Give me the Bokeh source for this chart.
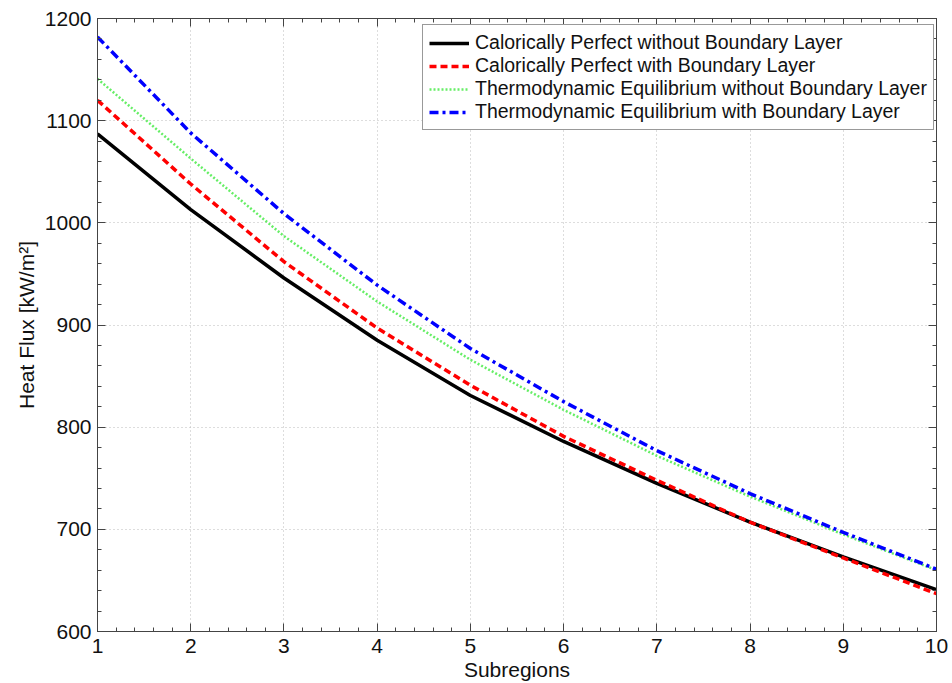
from bokeh.plotting import figure
from bokeh.models import LinearAxis, SingleIntervalTicker, Legend, LegendItem
from bokeh.embed import file_html
from bokeh.resources import INLINE

subregions = [1, 2, 3, 4, 5, 6, 7, 8, 9, 10]
cp_without_bl = [1087, 1013, 946, 885, 831, 786, 745, 707, 673, 641]
cp_with_bl = [1120, 1038, 962, 897, 841, 791, 748, 707, 672, 637]
te_without_bl = [1141, 1063, 987, 923, 866, 817, 772, 732, 695, 660]
te_with_bl = [1182, 1088, 1009, 939, 877, 825, 777, 735, 697, 661]

FONT = "Liberation Sans"

p = figure(width=952, height=683, x_range=(1, 10), y_range=(600, 1200),
           output_backend="svg", toolbar_location=None,
           min_border_left=97, min_border_right=16, min_border_top=18, min_border_bottom=51)

xt = SingleIntervalTicker(interval=1, num_minor_ticks=5)
yt = SingleIntervalTicker(interval=100, num_minor_ticks=5)
p.xaxis.ticker = xt
p.yaxis.ticker = yt

def style_axis(ax, show_labels=True):
    ax.major_tick_in = 8
    ax.major_tick_out = 0
    ax.minor_tick_in = 4
    ax.minor_tick_out = 0
    ax.axis_line_color = "#444444"
    ax.major_tick_line_color = "#444444"
    ax.minor_tick_line_color = "#444444"
    ax.major_label_text_font = FONT
    ax.major_label_text_color = "#111111"
    ax.axis_label_text_font = FONT
    ax.axis_label_text_font_style = "normal"
    ax.axis_label_text_color = "#111111"
    if show_labels:
        ax.major_label_text_font_size = "21px"
        ax.axis_label_text_font_size = "21px"
    else:
        ax.major_label_text_font_size = "1px"
        ax.major_label_text_color = None
        ax.major_label_standoff = 0

style_axis(p.xaxis[0])
style_axis(p.yaxis[0])
p.xaxis.axis_label = "Subregions"
p.yaxis.axis_label = "Heat Flux [kW/m²]"
p.xaxis.major_label_standoff = 7
p.yaxis.major_label_standoff = 6
p.xaxis.axis_label_standoff = 2
p.yaxis.axis_label_standoff = 4

top_ax = LinearAxis(ticker=SingleIntervalTicker(interval=1, num_minor_ticks=5))
right_ax = LinearAxis(ticker=SingleIntervalTicker(interval=100, num_minor_ticks=5))
style_axis(top_ax, False)
style_axis(right_ax, False)
p.add_layout(top_ax, "above")
p.add_layout(right_ax, "right")

p.xgrid.ticker = xt
p.ygrid.ticker = yt
p.grid.grid_line_color = "#bbbbbb"
p.grid.grid_line_dash = "1 3"
p.grid.grid_line_width = 1
p.outline_line_color = "#444444"

r1 = p.line(subregions, cp_without_bl, line_color="black", line_width=3.5)
r2 = p.line(subregions, cp_with_bl, line_color="#ff0000", line_width=3.5, line_dash="7 4")
r3 = p.line(subregions, te_without_bl, line_color="#66ee66", line_width=2.5, line_dash="2 2")
r4 = p.line(subregions, te_with_bl, line_color="#0000ff", line_width=3.5, line_dash="9 4 3 4")

legend = Legend(items=[
    LegendItem(label="Calorically Perfect without Boundary Layer", renderers=[r1]),
    LegendItem(label="Calorically Perfect with Boundary Layer", renderers=[r2]),
    LegendItem(label="Thermodynamic Equilibrium without Boundary Layer", renderers=[r3]),
    LegendItem(label="Thermodynamic Equilibrium with Boundary Layer", renderers=[r4]),
], location=(325, 501))
legend.label_text_font = FONT
legend.label_text_font_size = "19.5px"
legend.label_text_color = "#111111"
legend.glyph_width = 40
legend.glyph_height = 20
legend.label_height = 23
legend.spacing = 0
legend.padding = 6
legend.margin = 0
legend.label_standoff = 6
legend.border_line_color = "#333333"
legend.border_line_width = 1
legend.background_fill_alpha = 1
p.add_layout(legend, "center")

open("out.html", "w").write(file_html(p, INLINE))
